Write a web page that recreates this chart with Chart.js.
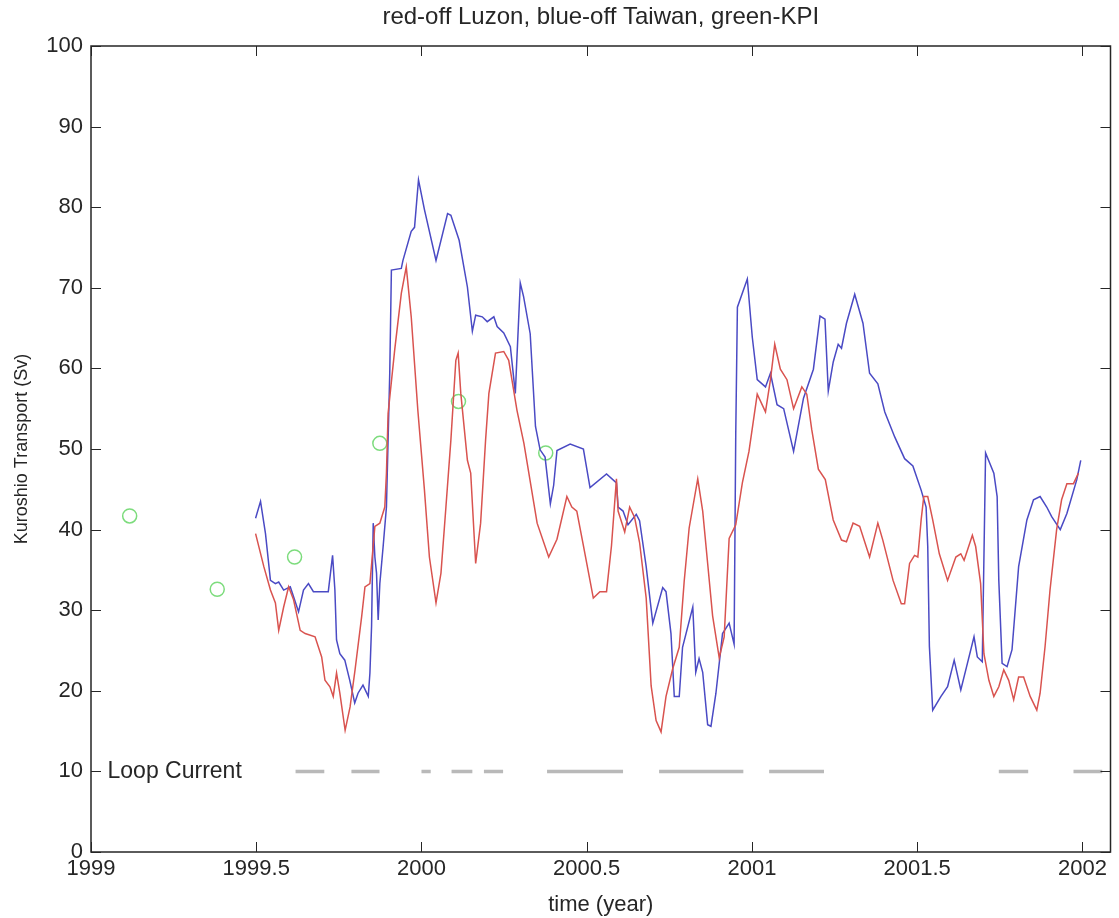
<!DOCTYPE html>
<html>
<head>
<meta charset="utf-8">
<title>Kuroshio Transport</title>
<script src="https://cdn.jsdelivr.net/npm/chart.js@4.4.1/dist/chart.umd.min.js"></script>
<style>
  html, body { margin: 0; padding: 0; background: #fff; }
  #wrap { width: 1119px; height: 918px; }
</style>
</head>
<body>
<div id="wrap"><canvas id="chart" width="1119" height="918"></canvas></div>
<script>
// Kuroshio transport time series
const titleText = 'red-off Luzon, blue-off Taiwan, green-KPI';
const xTicks = [1999, 1999.5, 2000, 2000.5, 2001, 2001.5, 2002];
const yTicks = [0, 10, 20, 30, 40, 50, 60, 70, 80, 90, 100];

// red - off Luzon
const luzonT = [1999.498, 1999.523, 1999.543, 1999.558, 1999.568, 1999.583, 1999.598, 1999.613, 1999.633, 1999.648,
  1999.678, 1999.698, 1999.708, 1999.723, 1999.733, 1999.743, 1999.753, 1999.769, 1999.784, 1999.799,
  1999.819, 1999.829, 1999.844, 1999.859, 1999.874, 1999.889, 1999.894, 1999.899, 1999.919, 1999.939,
  1999.954, 1999.969, 1999.989, 2000.009, 2000.024, 2000.044, 2000.059, 2000.074, 2000.089, 2000.104,
  2000.111, 2000.119, 2000.139, 2000.149, 2000.164, 2000.179, 2000.194, 2000.204, 2000.224, 2000.249,
  2000.264, 2000.289, 2000.310, 2000.350, 2000.385, 2000.410, 2000.440, 2000.455, 2000.470, 2000.490,
  2000.520, 2000.540, 2000.560, 2000.575, 2000.590, 2000.595, 2000.615, 2000.630, 2000.645, 2000.660,
  2000.680, 2000.695, 2000.710, 2000.725, 2000.740, 2000.760, 2000.780, 2000.795, 2000.810, 2000.836,
  2000.851, 2000.866, 2000.881, 2000.901, 2000.916, 2000.931, 2000.951, 2000.971, 2000.991, 2001.016,
  2001.041, 2001.056, 2001.069, 2001.086, 2001.106, 2001.126, 2001.151, 2001.166, 2001.181, 2001.201,
  2001.222, 2001.246, 2001.271, 2001.286, 2001.306, 2001.326, 2001.356, 2001.381, 2001.396, 2001.427,
  2001.452, 2001.462, 2001.477, 2001.492, 2001.502, 2001.512, 2001.520, 2001.532, 2001.547, 2001.567,
  2001.592, 2001.617, 2001.632, 2001.642, 2001.667, 2001.677, 2001.692, 2001.702, 2001.717, 2001.732,
  2001.747, 2001.762, 2001.777, 2001.792, 2001.807, 2001.822, 2001.842, 2001.862, 2001.872, 2001.887,
  2001.902, 2001.922, 2001.937, 2001.953, 2001.973, 2001.988];
const luzonV = [39.5, 35.4, 32.5, 30.9, 27.5, 30.4, 32.9, 31.3, 27.5, 27.1,
  26.7, 24.2, 21.3, 20.5, 19.3, 22.2, 19.7, 15.1, 18.0, 22.6,
  29.2, 32.9, 33.3, 40.4, 40.8, 42.8, 47.0, 54.4, 62.3, 69.3,
  72.6, 66.4, 54.8, 44.9, 36.6, 30.9, 34.6, 42.8, 51.1, 61.0,
  61.9, 56.9, 48.6, 47.0, 35.8, 40.8, 51.1, 56.9, 61.9, 62.1,
  61.0, 54.8, 50.7, 40.8, 36.6, 38.8, 44.1, 42.8, 42.3, 38.0,
  31.5, 32.3, 32.3, 38.0, 46.3, 42.3, 39.7, 42.8, 41.5, 38.4,
  31.5, 20.6, 16.3, 14.9, 19.3, 22.7, 25.4, 33.6, 40.2, 46.3,
  42.3, 35.8, 29.3, 24.1, 26.7, 38.9, 40.6, 45.8, 49.7, 56.8,
  54.6, 58.6, 63.0, 59.9, 58.6, 55.0, 57.7, 56.8, 52.4, 47.5,
  46.2, 41.2, 38.7, 38.5, 40.8, 40.4, 36.6, 40.8, 38.7, 33.7,
  30.8, 30.8, 35.8, 36.8, 36.6, 41.2, 44.1, 44.1, 41.2, 37.0,
  33.7, 36.6, 37.0, 36.2, 39.3, 37.9, 33.3, 24.6, 21.3, 19.3,
  20.5, 22.6, 21.3, 18.9, 21.7, 21.7, 19.3, 17.6, 19.7, 25.5,
  32.5, 40.0, 43.7, 45.7, 45.7, 47.0];

// blue - off Taiwan
const taiwanT = [1999.498, 1999.513, 1999.528, 1999.543, 1999.558, 1999.568, 1999.583, 1999.603, 1999.628, 1999.643,
  1999.658, 1999.673, 1999.718, 1999.731, 1999.738, 1999.743, 1999.753, 1999.768, 1999.783, 1999.798,
  1999.808, 1999.823, 1999.839, 1999.844, 1999.849, 1999.854, 1999.859, 1999.864, 1999.869, 1999.874,
  1999.884, 1999.894, 1999.904, 1999.909, 1999.939, 1999.944, 1999.969, 1999.979, 1999.991, 2000.009,
  2000.044, 2000.079, 2000.089, 2000.114, 2000.139, 2000.154, 2000.164, 2000.184, 2000.199, 2000.219,
  2000.229, 2000.249, 2000.269, 2000.284, 2000.299, 2000.309, 2000.329, 2000.345, 2000.359, 2000.374,
  2000.390, 2000.400, 2000.410, 2000.450, 2000.490, 2000.510, 2000.560, 2000.590, 2000.595, 2000.610,
  2000.625, 2000.650, 2000.660, 2000.680, 2000.700, 2000.730, 2000.740, 2000.755, 2000.765, 2000.780,
  2000.790, 2000.821, 2000.830, 2000.840, 2000.851, 2000.866, 2000.876, 2000.891, 2000.911, 2000.931,
  2000.946, 2000.951, 2000.956, 2000.986, 2001.001, 2001.016, 2001.041, 2001.056, 2001.076, 2001.096,
  2001.126, 2001.156, 2001.186, 2001.206, 2001.221, 2001.231, 2001.246, 2001.261, 2001.271, 2001.286,
  2001.311, 2001.336, 2001.356, 2001.381, 2001.402, 2001.432, 2001.462, 2001.487, 2001.512, 2001.527,
  2001.532, 2001.537, 2001.547, 2001.572, 2001.592, 2001.612, 2001.632, 2001.652, 2001.672, 2001.682,
  2001.697, 2001.707, 2001.732, 2001.742, 2001.747, 2001.757, 2001.772, 2001.787, 2001.807, 2001.832,
  2001.852, 2001.872, 2001.892, 2001.907, 2001.933, 2001.953, 2001.983, 2001.995];
const taiwanV = [41.4, 43.5, 39.5, 33.7, 33.3, 33.5, 32.5, 32.9, 29.8, 32.5,
  33.3, 32.3, 32.3, 36.8, 32.5, 26.3, 24.6, 23.8, 21.3, 18.5,
  19.7, 20.7, 19.3, 22.2, 28.0, 40.8, 36.6, 34.6, 28.8, 33.3,
  37.9, 42.8, 59.4, 72.2, 72.4, 73.4, 77.0, 77.5, 83.4, 79.7,
  73.4, 79.2, 79.0, 75.9, 70.1, 64.6, 66.6, 66.4, 65.8, 66.4,
  65.2, 64.4, 62.7, 56.9, 70.6, 68.9, 64.3, 52.8, 49.9, 49.0,
  43.2, 45.5, 49.8, 50.6, 50.0, 45.2, 46.9, 45.8, 42.8, 42.3,
  40.6, 41.9, 41.1, 35.4, 28.4, 32.8, 32.3, 27.1, 19.3, 19.3,
  25.4, 30.4, 22.3, 24.0, 22.3, 15.8, 15.6, 19.7, 27.1, 28.4,
  25.8, 51.9, 67.6, 71.1, 63.9, 58.6, 57.7, 59.4, 55.5, 55.0,
  49.7, 56.3, 59.9, 66.5, 66.1, 57.2, 60.8, 63.0, 62.5, 65.6,
  69.2, 65.6, 59.4, 58.1, 54.6, 51.5, 48.8, 47.9, 44.9, 42.8,
  37.9, 25.5, 17.6, 19.3, 20.5, 23.8, 20.1, 23.4, 26.7, 24.2,
  23.6, 49.5, 47.0, 44.1, 33.7, 23.4, 23.0, 25.1, 35.4, 41.2,
  43.7, 44.1, 42.8, 41.6, 40.0, 42.0, 46.2, 48.6];

// green - KPI
const kpiT = [1999.117, 1999.382, 1999.616, 1999.874, 2000.112, 2000.376];
const kpiV = [41.7, 32.6, 36.6, 50.7, 55.9, 49.5];

// Loop Current periods (drawn at 10 Sv)
const loopLevel = 10;
const loopStart = [1999.619, 1999.788, 2000.000, 2000.091, 2000.189, 2000.380, 2000.719, 2001.052, 2001.747, 2001.973];
const loopEnd   = [1999.706, 1999.873, 2000.028, 2000.154, 2000.247, 2000.610, 2000.974, 2001.218, 2001.836, 2002.060];

function pairs(t, v) {
  return t.map((x, i) => ({ x: x, y: v[i] }));
}

const loopData = [];
for (let i = 0; i < loopStart.length; i++) {
  loopData.push({ x: loopStart[i], y: loopLevel });
  loopData.push({ x: loopEnd[i], y: loopLevel });
  if (i < loopStart.length - 1) loopData.push({ x: (loopEnd[i] + loopStart[i + 1]) / 2, y: null });
}

const FONT = 'Liberation Sans, Arial, Helvetica, sans-serif';
const INK = '#262626';

// frame, inward ticks, title and the "Loop Current" note
const matlabAxes = {
  id: 'matlabAxes',
  afterDraw(chart) {
    const { ctx, chartArea: a, scales } = chart;
    const xs = scales.x, ys = scales.y;
    const tl = 10;
    ctx.save();
    ctx.strokeStyle = INK;
    ctx.lineWidth = 1.5;
    ctx.strokeRect(a.left, a.top, a.right - a.left, a.bottom - a.top);
    ctx.beginPath();
    xTicks.forEach(v => {
      const px = Math.round(xs.getPixelForValue(v)) + 0.5;
      ctx.moveTo(px, a.bottom); ctx.lineTo(px, a.bottom - tl);
      ctx.moveTo(px, a.top); ctx.lineTo(px, a.top + tl);
    });
    yTicks.forEach(v => {
      const py = Math.round(ys.getPixelForValue(v)) + 0.5;
      ctx.moveTo(a.left, py); ctx.lineTo(a.left + tl, py);
      ctx.moveTo(a.right, py); ctx.lineTo(a.right - tl, py);
    });
    ctx.lineWidth = 1;
    ctx.stroke();

    ctx.fillStyle = INK;
    ctx.font = '24px ' + FONT;
    ctx.textAlign = 'center';
    ctx.textBaseline = 'alphabetic';
    ctx.fillText(titleText, (a.left + a.right) / 2, 24);

    ctx.font = '23px ' + FONT;
    ctx.textAlign = 'left';
    ctx.textBaseline = 'middle';
    ctx.fillText('Loop Current', xs.getPixelForValue(1999.05), ys.getPixelForValue(loopLevel));
    ctx.restore();
  }
};

new Chart(document.getElementById('chart'), {
  type: 'line',
  data: {
    datasets: [
      {
        label: 'Loop Current',
        data: loopData,
        borderColor: '#b9b9b9',
        borderWidth: 3.5,
        borderCapStyle: 'butt',
        pointRadius: 0,
        spanGaps: false
      },
      {
        label: 'off Luzon',
        data: pairs(luzonT, luzonV),
        borderColor: '#d9534f',
        borderWidth: 1.5,
        pointRadius: 0
      },
      {
        label: 'off Taiwan',
        data: pairs(taiwanT, taiwanV),
        borderColor: '#4a4ac4',
        borderWidth: 1.5,
        pointRadius: 0
      },
      {
        label: 'KPI',
        data: pairs(kpiT, kpiV),
        showLine: false,
        pointStyle: 'circle',
        pointRadius: 7,
        borderColor: '#7ddc7d',
        backgroundColor: 'rgba(0,0,0,0)',
        pointBorderWidth: 1.5
      }
    ]
  },
  options: {
    responsive: false,
    animation: false,
    devicePixelRatio: 1,
    layout: { padding: { top: 46, right: 2, left: 0, bottom: 0 } },
    plugins: {
      legend: { display: false },
      tooltip: { enabled: false }
    },
    scales: {
      x: {
        type: 'linear',
        min: 1999,
        max: 2002.085,
        afterBuildTicks: s => { s.ticks = xTicks.map(v => ({ value: v })); },
        afterFit: s => { s.height = 66; },
        grid: { display: false, drawTicks: false },
        border: { display: false },
        ticks: {
          callback: v => String(v),
          color: INK,
          font: { family: FONT, size: 22 },
          padding: 4,
          maxRotation: 0,
          autoSkip: false
        },
        title: {
          display: true,
          text: 'time (year)',
          color: INK,
          font: { family: FONT, size: 22 },
          padding: { top: 0, bottom: 0 }
        }
      },
      y: {
        min: 0,
        max: 100,
        afterBuildTicks: s => { s.ticks = yTicks.map(v => ({ value: v })); },
        afterFit: s => { s.width = 91; },
        grid: { display: false, drawTicks: false },
        border: { display: false },
        ticks: {
          callback: v => String(v),
          color: INK,
          font: { family: FONT, size: 22 },
          padding: 8
        },
        title: {
          display: true,
          text: 'Kuroshio Transport (Sv)',
          color: INK,
          font: { family: FONT, size: 18 },
          padding: { top: 11, bottom: 0 }
        }
      }
    }
  },
  plugins: [matlabAxes]
});
</script>
</body>
</html>
